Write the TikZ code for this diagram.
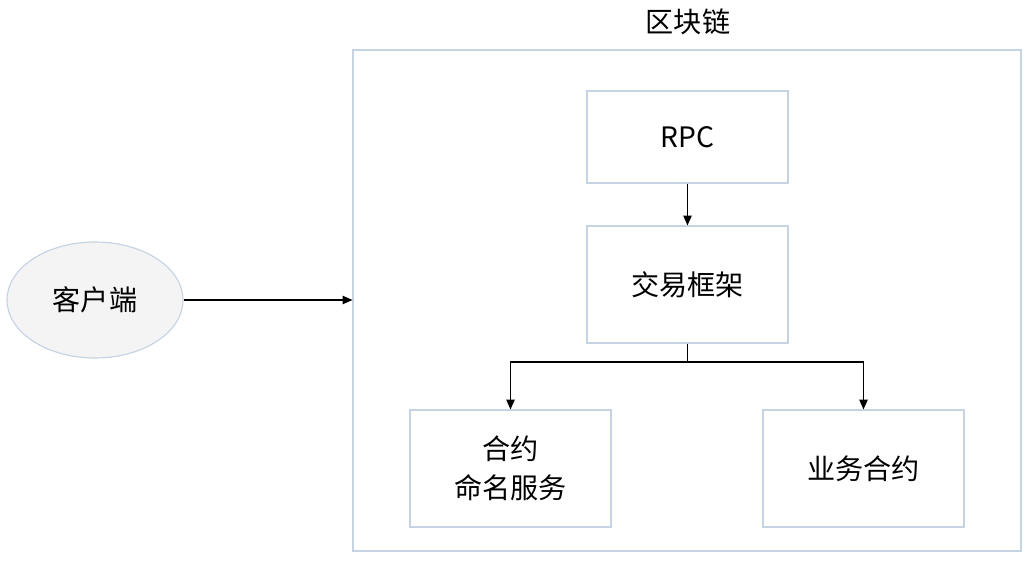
\documentclass[tikz,border=0pt]{standalone}
\usepackage{fontspec}
\setmainfont{Noto Sans CJK SC}
\usetikzlibrary{arrows.meta,positioning,shapes.geometric}
\definecolor{edgeblue}{HTML}{C5D3E2}
\definecolor{ellfill}{HTML}{F4F4F4}

\tikzset{
  box/.style={draw=edgeblue, thick, minimum width=201*0.025cm, minimum height=117*0.025cm, align=center, font=\fontsize{20}{28}\selectfont},
  arr/.style={-{Triangle[length=7pt,width=6pt]}, thick}
}

\begin{document}
\begin{tikzpicture}[x=0.025cm, y=-0.025cm]  % pixel units

            \useasboundingbox (0,0) rectangle (1030,563);

            % Container
            \node[draw=edgeblue, thick, minimum width=668*0.025cm, minimum height=501*0.025cm] (chain) at (687,300.5) {};
            \node[font=\fontsize{20}{24}\selectfont] (title) at (688,22) {区块链};

            % Client
            \node[ellipse, draw=edgeblue, thick, fill=ellfill, minimum width=176*0.025cm, minimum height=116*0.025cm, font=\fontsize{20}{24}\selectfont] (client) at (95,300) {客户端};

            % Boxes
            \node[box, minimum height=92*0.025cm] (rpc) at (687.5,137) {RPC};
            \node[box] (tx) at (687.5,284.5) {交易框架};
            \node[box] (naming) at (510.5,468.5) {合约\\命名服务};
            \node[box] (biz) at (863.5,468.5) {业务合约};

            % Arrows
            \draw[arr] (client.east) -- (chain.west |- client.east);
            \draw[arr] (rpc) -- (tx);
            \coordinate (split) at (687.5,362);
            \draw[arr] (tx.south) -- (split) -| (naming.north);
            \draw[arr] (split) -| (biz.north);

\end{tikzpicture}
\end{document}
